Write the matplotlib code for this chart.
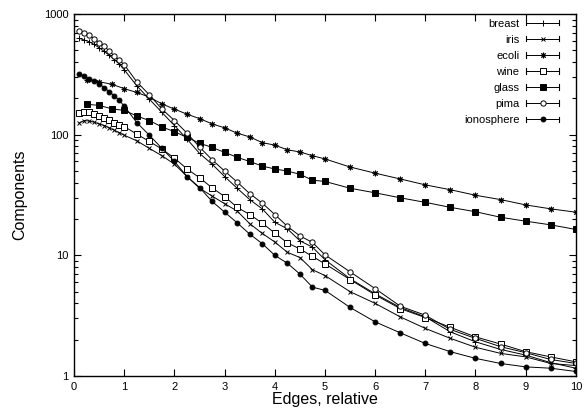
import numpy as np
import matplotlib
matplotlib.use('Agg')
import matplotlib.pyplot as plt
from matplotlib.lines import Line2D
from matplotlib.legend_handler import HandlerLine2D
from matplotlib.ticker import FixedLocator, LogLocator, NullFormatter

plt.rcParams['font.family'] = ['Liberation Sans', 'DejaVu Sans']

# x grids (edges, relative)
x_fine = [0.1, 0.2, 0.3, 0.4, 0.5, 0.6, 0.7, 0.8, 0.9, 1.0,
          1.25, 1.5, 1.75, 2.0, 2.25, 2.5, 2.75, 3.0, 3.25, 3.5, 3.75,
          4.0, 4.25, 4.5, 4.75, 5.0, 5.5, 6.0, 6.5, 7.0, 7.5, 8.0, 8.5,
          9.0, 9.5, 10.0]
x_coarse = [0.25, 0.5, 0.75, 1.0,
            1.25, 1.5, 1.75, 2.0, 2.25, 2.5, 2.75, 3.0, 3.25, 3.5, 3.75,
            4.0, 4.25, 4.5, 4.75, 5.0, 5.5, 6.0, 6.5, 7.0, 7.5, 8.0, 8.5,
            9.0, 9.5, 10.0]

breast = [630, 610, 590, 560, 525, 490, 455, 420, 385, 345,
          254, 197, 153, 119, 92, 70, 57, 45, 36, 29, 24.3,
          18.8, 16.6, 13.2, 11.7, 9.2, 6.4, 4.8, 3.7, 3.09, 2.32, 1.92, 1.66,
          1.49, 1.29, 1.16]
iris = [125, 131, 130, 127, 123, 119, 114, 109, 104, 99,
        89, 77, 67, 57, 45, 36, 31, 26.8, 23.3, 18.3, 15.2,
        12.9, 10.6, 9.6, 7.6, 6.8, 5.0, 4.0, 3.09, 2.48, 2.05, 1.73, 1.54,
        1.44, 1.27, 1.22]
ecoli = [285, 275, 262, 241,
         224, 205, 180, 163, 148, 136, 123, 114, 103, 96, 86,
         82, 75, 72, 67, 63, 54, 48, 43, 38.4, 35, 31.5, 29,
         26.2, 24.3, 22.8]
wine = [152, 155, 153, 148, 142, 137, 132, 126, 120, 117,
        101, 88, 76, 64, 52, 44, 36.3, 30.7, 25, 21.8, 18.5,
        15.3, 12.7, 11.3, 9.8, 8.5, 6.3, 4.7, 3.62, 3.05, 2.53, 2.11, 1.84,
        1.59, 1.44, 1.31]
glass = [179, 175, 164, 159,
         143, 131, 116, 106, 95, 85, 78.5, 71.4, 65, 60, 55,
         52, 50, 47, 42, 41, 36, 33, 30, 27.5, 25, 23, 20.7,
         19.2, 17.9, 16.4]
pima = [724, 700, 665, 625, 580, 540, 495, 450, 415, 380,
        274, 214, 163, 131, 103, 79, 62, 50, 40.5, 32.5, 27.1,
        21.8, 17.4, 14.5, 12.8, 10.1, 7.3, 5.3, 3.79, 3.19, 2.43, 2.05, 1.75,
        1.56, 1.37, 1.27]
ionosphere = [320, 305, 290, 278, 265, 245, 228, 210, 193, 172,
              126, 99, 77, 60, 45, 36.5, 28, 22.8, 18.6, 15, 12.5,
              10, 8.6, 7.0, 5.45, 5.13, 3.7, 2.81, 2.28, 1.86, 1.59, 1.40, 1.27,
              1.19, 1.16, 1.09]

series = [
    ('breast', x_fine, breast, dict(marker='+', mfc='black', markersize=4)),
    ('iris', x_fine, iris, dict(marker='x', mfc='black', markersize=3.5)),
    ('ecoli', x_coarse, ecoli, dict(marker=(8, 2, 0), mfc='black', markersize=4)),
    ('wine', x_fine, wine, dict(marker='s', mfc='white', markersize=4)),
    ('glass', x_coarse, glass, dict(marker='s', mfc='black', markersize=4.5)),
    ('pima', x_fine, pima, dict(marker='o', mfc='white', markersize=3.8)),
    ('ionosphere', x_fine, ionosphere, dict(marker='o', mfc='black', markersize=3.5)),
]


class CapHandler(HandlerLine2D):
    # gnuplot-style errorbar key: |---o---|
    def create_artists(self, legend, orig_handle, xdescent, ydescent,
                       width, height, fontsize, trans):
        arts = super().create_artists(legend, orig_handle, xdescent, ydescent,
                                      width, height, fontsize, trans)
        y = height / 2 - ydescent
        h = height * 0.35
        for x in (-xdescent, -xdescent + width):
            arts.append(Line2D([x, x], [y - h, y + h], color='black',
                               lw=0.8, transform=trans))
        return arts


fig = plt.figure(figsize=(5.84, 4.15), dpi=100)
ax = fig.add_axes([0.127, 0.094, 0.859, 0.872])

for name, xs, ys, st in series:
    ax.plot(xs, ys, color='black', lw=0.7, mec='black', mew=0.7,
            label=name, **st)

ax.set_yscale('log')
ax.set_xlim(0, 10)
ax.set_ylim(1, 1000)
ax.xaxis.set_major_locator(FixedLocator(range(0, 11)))
ax.yaxis.set_major_locator(FixedLocator([1, 10, 100, 1000]))
ax.set_yticklabels(['1', '10', '100', '1000'])
ax.yaxis.set_minor_locator(LogLocator(base=10, subs=range(2, 10)))
ax.yaxis.set_minor_formatter(NullFormatter())
ax.tick_params(which='both', direction='in', top=True, right=True,
               labelsize=8, width=0.8)
ax.tick_params(which='major', length=5, pad=4)
ax.tick_params(which='minor', length=3)
for sp in ax.spines.values():
    sp.set_linewidth(1.0)

ax.set_xlabel('Edges, relative', fontsize=11.5, labelpad=0)
ax.set_ylabel('Components', fontsize=11.5, labelpad=12)

ax.legend(loc='upper right', bbox_to_anchor=(0.976, 1.0), frameon=False,
          markerfirst=False, fontsize=8, handlelength=3.0, handletextpad=0.6,
          labelspacing=0.55, borderaxespad=0,
          handler_map={Line2D: CapHandler()})

fig.savefig('out.png', dpi=100)
